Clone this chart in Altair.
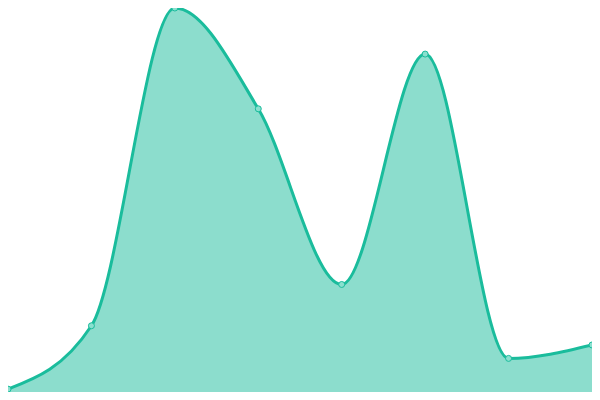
import altair as alt
import pandas as pd

# data
idx = [0, 1, 2, 3, 4, 5, 6, 7]
values = [3, 69, 400, 295, 112, 352, 35, 49]

df = pd.DataFrame({"i": idx, "v": values})

W, H = 584, 384

x = alt.X("i:Q", scale=alt.Scale(domain=[0, 7], nice=False, zero=False), axis=None)
y = alt.Y("v:Q", scale=alt.Scale(domain=[0, 400], nice=False), axis=None)

base = alt.Chart(df).encode(x=x, y=y)

area = base.mark_area(interpolate="monotone", color="#1abc9c", opacity=0.5)
line = base.mark_line(interpolate="monotone", color="#1abc9c", strokeWidth=3)
pts = base.mark_point(filled=True, fill="#8ae0cf", stroke="#1abc9c", strokeWidth=1,
                      size=36, opacity=1)

chart = alt.layer(area, line, pts).properties(
    width=W, height=H, padding=0, autosize="none"
).configure_view(stroke=None)

chart.save("out.html", embed_options={"renderer": "svg", "actions": False})
